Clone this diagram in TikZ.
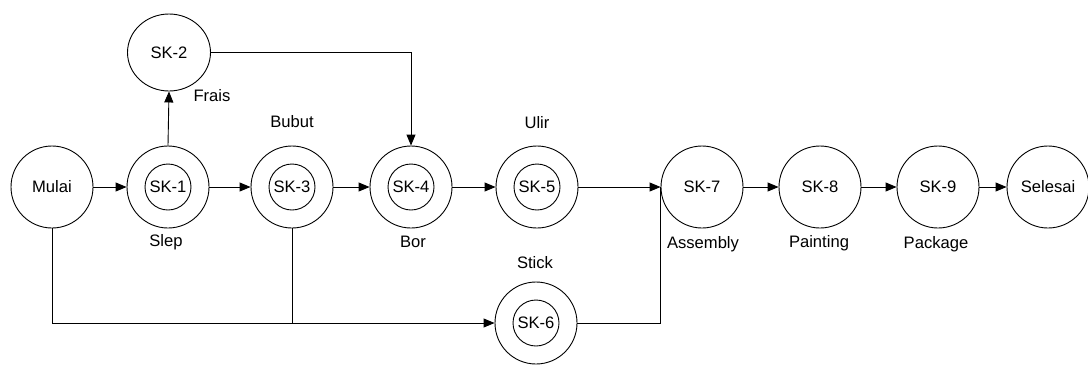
\documentclass[tikz,border=0pt]{standalone}
\usepackage{fontspec}
\setmainfont{Liberation Sans}
\usetikzlibrary{arrows.meta,shapes.geometric}
\begin{document}
\begin{tikzpicture}[x=1pt,y=-1pt,
  font=\fontsize{16.6}{19}\selectfont,
  st/.style={circle,draw,line width=0.9pt,minimum size=82pt,inner sep=0pt},
  inr/.style={circle,draw,line width=0.9pt,minimum size=46pt,inner sep=0pt},
  conn/.style={line width=0.9pt},
  arr/.style={conn,-{Triangle[length=11pt,width=9pt]}},
  lbl/.style={inner sep=0pt}]
\useasboundingbox (0,0) rectangle (1088,365);
% main states
\node[st] (mulai) at (52,187) {Mulai};
\node[st] (sk1) at (168,187) {};
\node[inr] (sk1i) at (168,187) {SK-1};
\node[ellipse,draw,line width=0.9pt,minimum width=83pt,minimum height=77pt,inner sep=0pt] (sk2) at (169,52.5) {SK-2};
\node[st] (sk3) at (292,187) {};
\node[inr] (sk3i) at (292,187) {SK-3};
\node[st] (sk4) at (411,187) {};
\node[inr] (sk4i) at (411,187) {SK-4};
\node[st] (sk5) at (537,187) {};
\node[inr] (sk5i) at (537,187) {SK-5};
\node[st] (sk6) at (536,323) {};
\node[inr] (sk6i) at (536,323) {SK-6};
\node[st] (sk7) at (702,187) {SK-7};
\node[st] (sk8) at (820,187) {SK-8};
\node[st] (sk9) at (938,187) {SK-9};
\node[st] (selesai) at (1048,187) {Selesai};
% labels
\node[lbl] (lfrais) at (212,96) {Frais};
\node[lbl] (lbubut) at (292,122) {Bubut};
\node[lbl] (lslep) at (166,242) {Slep};
\node[lbl] (lbor) at (413,242) {Bor};
\node[lbl] (lulir) at (537,123) {Ulir};
\node[lbl] (lstick) at (535,263) {Stick};
\node[lbl] (lasm) at (703,244) {Assembly};
\node[lbl] (lpaint) at (819,243) {Painting};
\node[lbl] (lpack) at (936,244) {Package};
% connectors
\draw[arr] (mulai.east) -- (sk1.west);
\draw[arr] (sk1.north) -- (sk2.south);
\draw[arr] (sk1.east) -- (sk3.west);
\draw[arr] (sk3.east) -- (sk4.west);
\draw[arr] (sk4.east) -- (sk5.west);
\draw[arr] (sk2.east) -| (sk4.north);
\draw[arr] (sk5.east) -- (sk7.west);
\draw[conn] (sk6.east) -| (sk7.west);
\draw[arr] (mulai.south) |- (sk6.west);
\draw[conn] (sk3.south) -- (sk3.south |- sk6.west);
\draw[arr] (sk7.east) -- (sk8.west);
\draw[arr] (sk8.east) -- (sk9.west);
\draw[arr] (sk9.east) -- (selesai.west);
\end{tikzpicture}
\end{document}
